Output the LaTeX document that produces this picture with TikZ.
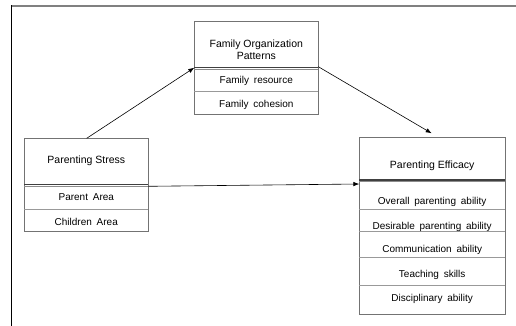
\documentclass[tikz,border=0pt]{standalone}
\usepackage{fontspec}
\setmainfont{Liberation Sans}
\usetikzlibrary{arrows.meta}
\newcommand\widespaces{\spaceskip=0.48em\relax}
\begin{document}
\begin{tikzpicture}[x=1pt,y=-1pt,
  boxline/.style={draw=black!55,line width=0.7pt},
  sepline/.style={draw=black!40,line width=0.7pt},
  thickdiv/.style={draw=black!75,line width=1.4pt},
  thickdiv2/.style={draw=black!45,line width=0.8pt},
  title/.style={font=\fontsize{10.5}{12}\selectfont,align=center,inner sep=0pt},
  item/.style={font=\fontsize{10}{12}\selectfont\widespaces,inner sep=0pt},
  conn/.style={draw=black,line width=0.6pt,-{Latex[length=6pt,width=4.5pt]}}]
\useasboundingbox (0,0) rectangle (516,326);
% frame
\draw[draw=black!50,line width=2pt] (11,6.5) -- (516,6.5);
\draw[draw=black,line width=1pt] (11.5,5.5) -- (11.5,326);
% Family box
\draw[boxline] (194.3,21.3) rectangle (318.3,114.3);
\draw[thickdiv] (194.3,67.5) -- (318.3,67.5);
\draw[thickdiv2] (194.3,69.2) -- (318.3,69.2);
\draw[sepline] (194.3,91.7) -- (318.3,91.7);
\coordinate (famTL) at (194.3,67.7);
\coordinate (famTR) at (318.3,66.7);
\node[title] (famT) at (256.3,49.5) {Family Organization\\Patterns};
\node[item] (fam1) at (256.3,80.5) {Family resource};
\node[item] (fam2) at (256.3,104.5) {Family cohesion};
% Parenting stress box
\draw[boxline] (24.3,138.3) rectangle (148.3,231.7);
\draw[thickdiv] (24.3,184.2) -- (148.3,184.2);
\draw[thickdiv2] (24.3,185.9) -- (148.3,185.9);
\draw[sepline] (24.3,209.3) -- (148.3,209.3);
\coordinate (psTop) at (86.7,138.3);
\coordinate (psR) at (148.3,186.3);
\node[title] (psT) at (86.3,161) {Parenting Stress};
\node[item] (ps1) at (86.3,197.5) {Parent Area};
\node[item] (ps2) at (86.3,221.5) {Children Area};
% Parenting efficacy box
\draw[boxline] (359.3,137) rectangle (505,314);
\draw[thickdiv] (359.3,179.8) -- (505,179.8);
\draw[thickdiv2] (359.3,181.6) -- (505,181.6);
\draw[sepline] (359.3,209.3) -- (505,209.3);
\draw[sepline] (359.3,231.3) -- (505,231.3);
\draw[sepline] (359.3,257.3) -- (505,257.3);
\draw[sepline] (359.3,285) -- (505,285);
\coordinate (peTop) at (431.7,133.3);
\coordinate (peL) at (359.3,184);
\node[title] (peT) at (432.2,165.7) {Parenting Efficacy};
\node[item] (pe1) at (432.2,201.8) {Overall parenting ability};
\node[item] (pe2) at (432.2,226.5) {Desirable parenting ability};
\node[item] (pe3) at (432.2,250.3) {Communication ability};
\node[item] (pe4) at (432.2,275) {Teaching skills};
\node[item] (pe5) at (432.2,298.7) {Disciplinary ability};
% connectors
\draw[conn] (psTop) -- (famTL);
\draw[conn] (famTR) -- (peTop);
\draw[conn] (psR) -- (peL);
\end{tikzpicture}
\end{document}
